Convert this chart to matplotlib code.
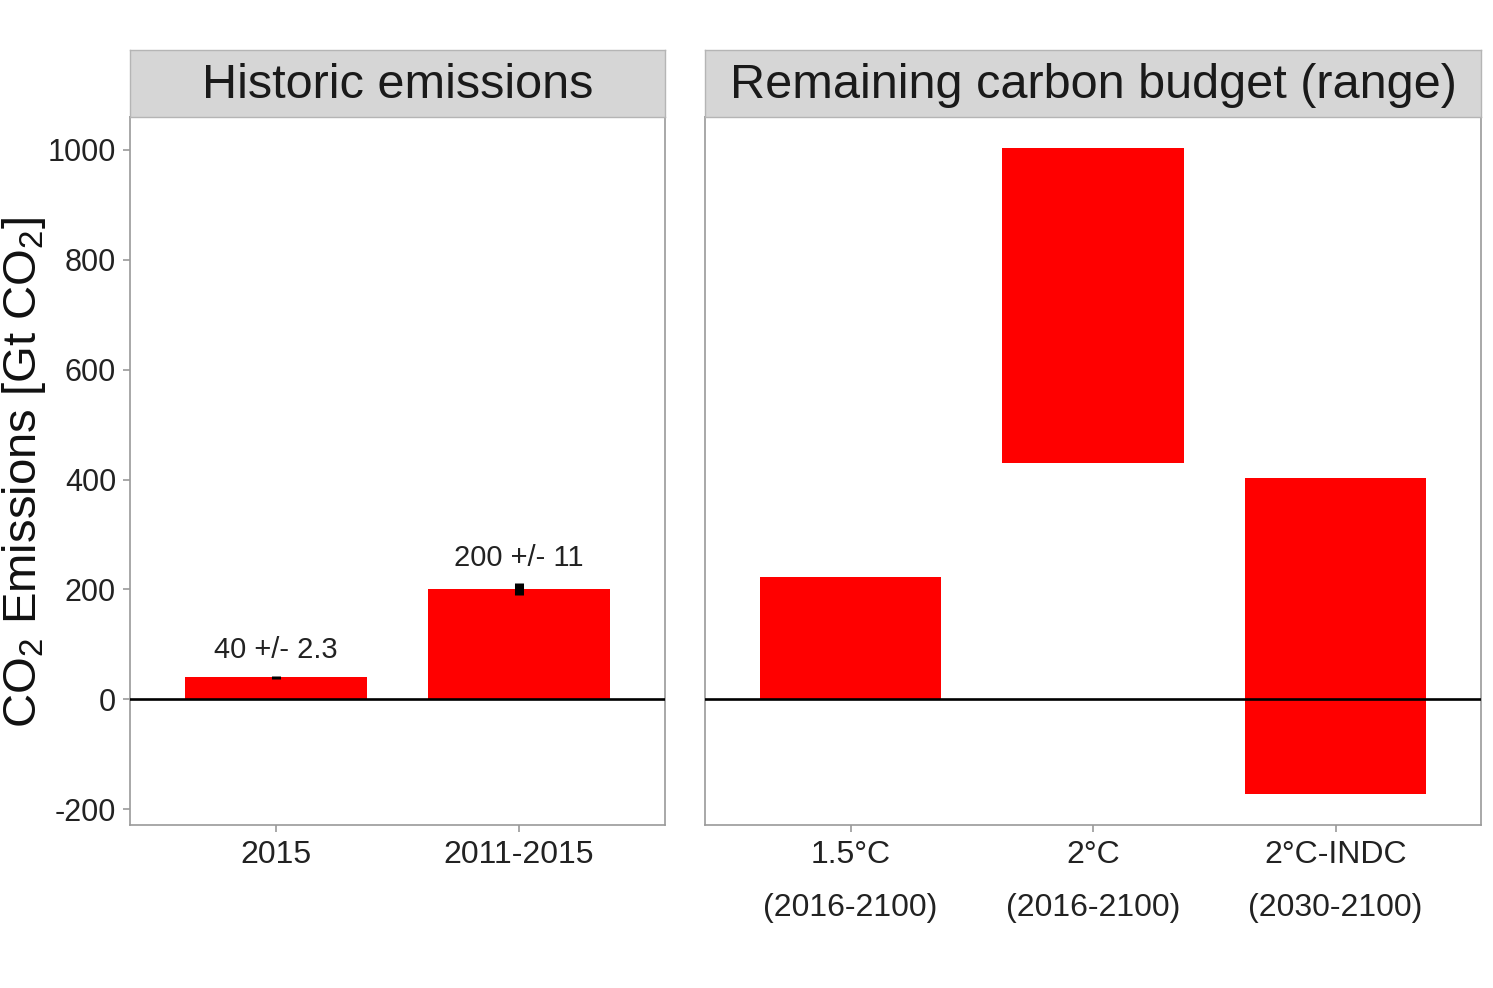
import matplotlib
matplotlib.use('Agg')
import matplotlib.pyplot as plt
import numpy as np

plt.rcParams['font.family'] = ['Liberation Sans', 'DejaVu Sans']
plt.rcParams['mathtext.fontset'] = 'custom'
plt.rcParams['mathtext.rm'] = 'Liberation Sans'
plt.rcParams['mathtext.it'] = 'Liberation Sans:italic'
plt.rcParams['mathtext.bf'] = 'Liberation Sans:bold'
plt.rcParams['axes.unicode_minus'] = False

# ---- data ----
hist_categories = ['2015', '2011-2015']
hist_values = [40, 200]
hist_errors = [2.3, 11]
hist_labels = ['40 +/- 2.3', '200 +/- 11']

budget_categories = ['1.5°C\n(2016-2100)', '2°C\n(2016-2100)', '2°C-INDC\n(2030-2100)']
budget_low = [0, 430, -172]
budget_high = [222, 1003, 403]

yticks = [-200, 0, 200, 400, 600, 800, 1000]
panel_titles = ['Historic emissions', 'Remaining carbon budget (range)']
ylabel = r'CO$_2$ Emissions [Gt CO$_2$]'

# ---- style ----
BAR = '#FF0000'
BORDER = '#9A9A9A'
STRIP = '#D6D6D6'
TXT = '#222222'
W, H = 1493, 988
fig = plt.figure(figsize=(W / 100, H / 100), dpi=100)

ylim = (-229, 1060)
top_px, bot_px = 117, 825
strip_top = 50
panels = [(130, 665), (705, 1481)]

def fx(px):
    return px / W

def fy(px):
    return 1 - px / H

axes = []
for (l, r), title in zip(panels, panel_titles):
    ax = fig.add_axes([fx(l), fy(bot_px), fx(r - l), fy(top_px) - fy(bot_px)])
    ax.set_ylim(*ylim)
    for s in ax.spines.values():
        s.set_color(BORDER)
        s.set_linewidth(1.2)
    ax.tick_params(axis='both', colors=BORDER, labelcolor=TXT, labelsize=22,
                   length=5, width=1.2, pad=5)
    ax.tick_params(axis='x', labelsize=23, pad=6)
    ax.set_yticks(yticks)
    sax = fig.add_axes([fx(l), fy(top_px), fx(r - l), fy(strip_top) - fy(top_px)])
    sax.set_facecolor(STRIP)
    sax.set_xticks([]); sax.set_yticks([])
    for s in sax.spines.values():
        s.set_color('#B5B5B5')
        s.set_linewidth(1.0)
    sax.text(0.5, 0.47, title, ha='center', va='center', fontsize=35, color='#1A1A1A',
             transform=sax.transAxes)
    axes.append(ax)

ax1, ax2 = axes

# left panel
x1 = np.arange(len(hist_categories))
ax1.bar(x1, hist_values, width=0.75, color=BAR, zorder=2)
ax1.errorbar(x1, hist_values, yerr=hist_errors, fmt='none', ecolor='black',
             elinewidth=6.5, capsize=0, zorder=3)
for xi, v, e, lab in zip(x1, hist_values, hist_errors, hist_labels):
    ax1.text(xi, v + e + 47, lab, ha='center', va='center', fontsize=21, color=TXT)
ax1.set_xlim(-0.6, len(hist_categories) - 0.4)
ax1.set_xticks(x1)
ax1.set_xticklabels(hist_categories)
ax1.axhline(0, color='black', lw=1.9, zorder=4)

# right panel
x2 = np.arange(len(budget_categories))
heights = [h - l for l, h in zip(budget_low, budget_high)]
ax2.bar(x2, heights, bottom=budget_low, width=0.75, color=BAR, zorder=2)
ax2.set_xlim(-0.6, len(budget_categories) - 0.4)
ax2.set_xticks(x2)
ax2.set_xticklabels(budget_categories, linespacing=2.0)
ax2.tick_params(axis='y', left=False, labelleft=False)
ax2.axhline(0, color='black', lw=1.9, zorder=4)

fig.text(fx(0), fy(472), ylabel, rotation=90, ha='left', va='center',
         fontsize=34, color='#111111')

fig.savefig('out.png', dpi=100, facecolor='white')
